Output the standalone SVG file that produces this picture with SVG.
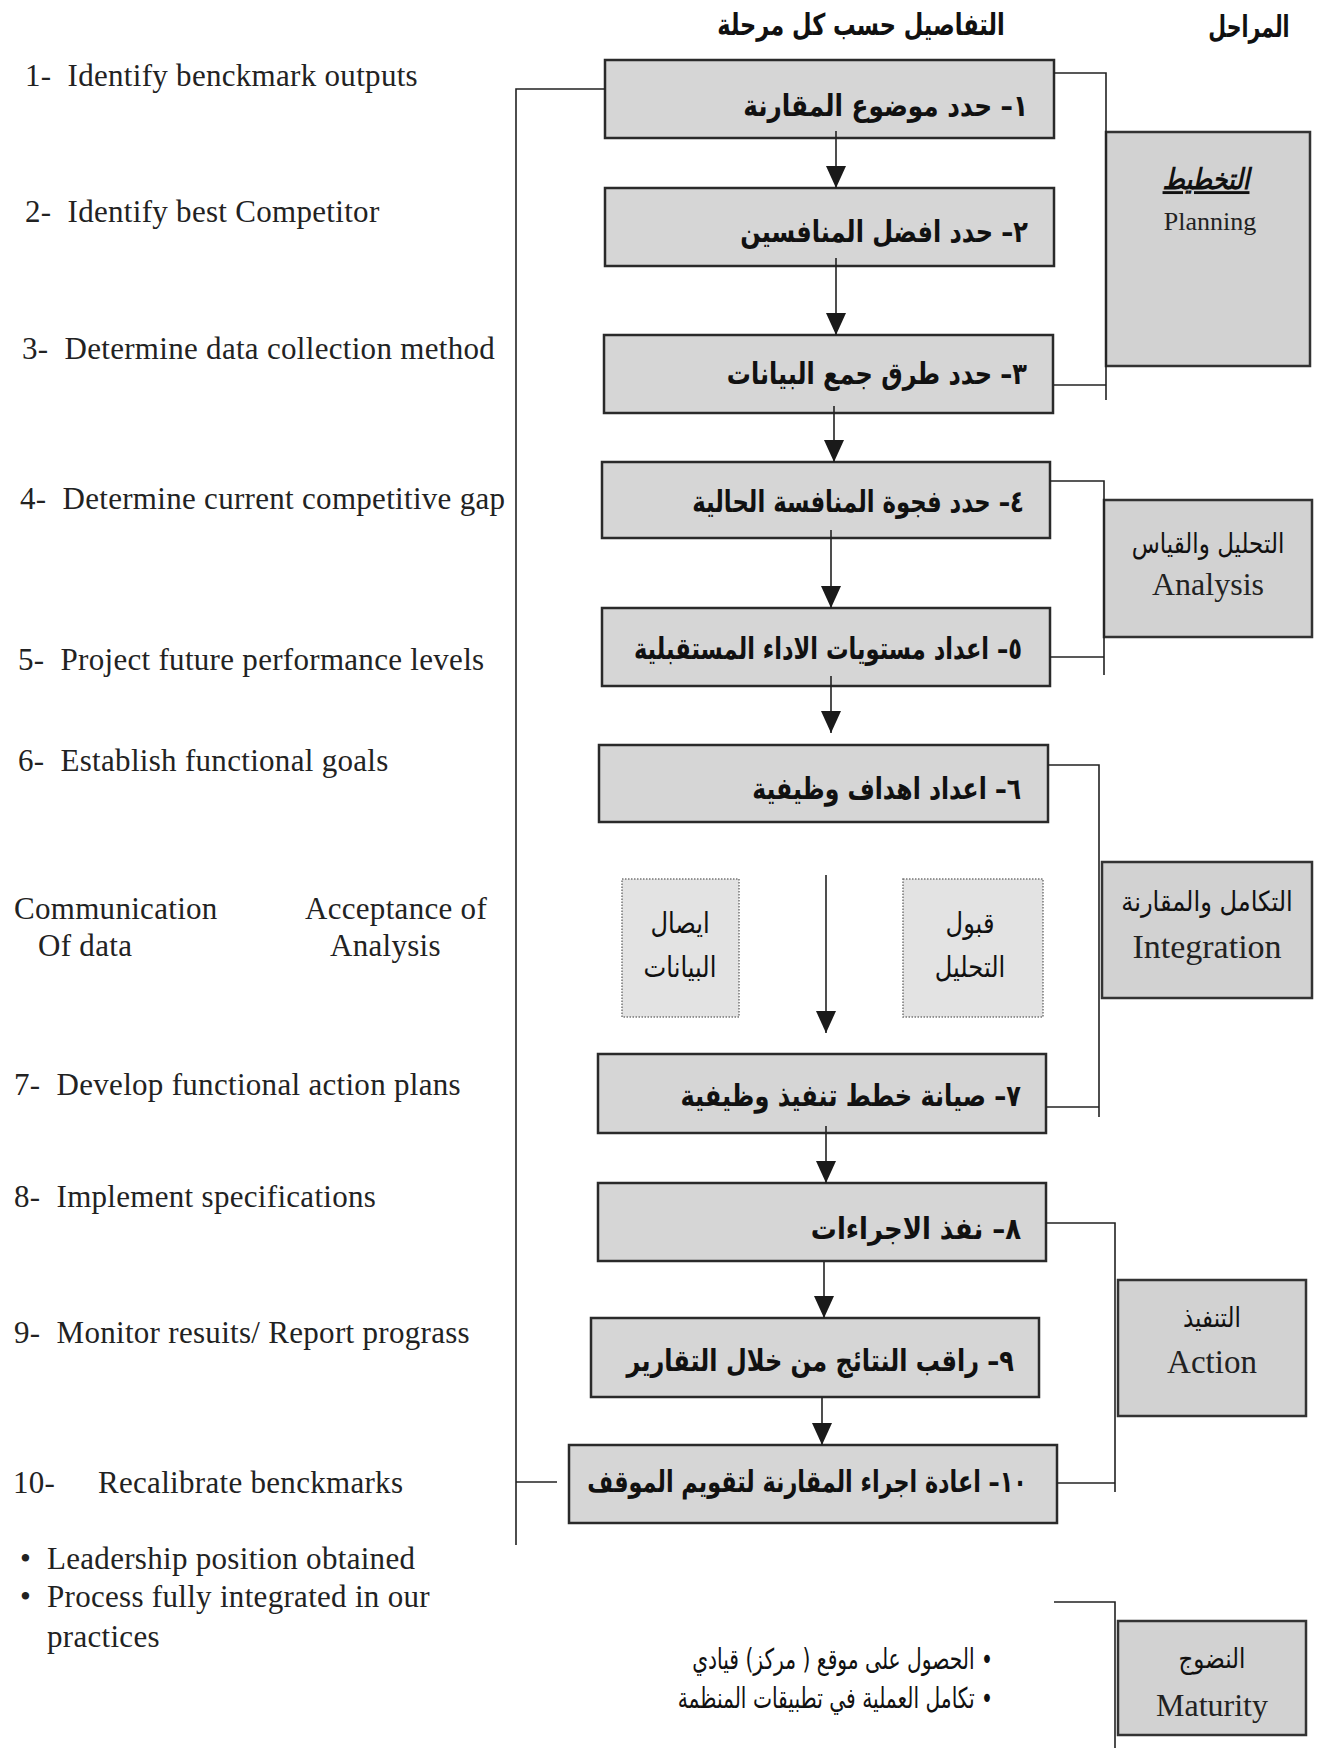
<svg xmlns="http://www.w3.org/2000/svg" width="1336" height="1748" viewBox="0 0 1336 1748">
<defs>
<marker id="ah" markerUnits="userSpaceOnUse" markerWidth="22" markerHeight="22" refX="22" refY="10" orient="auto">
<path d="M0,0 L22,10 L0,20 z" fill="#1a1a1a"/>
</marker>
<style>
.box{fill:#d6d6d6;stroke:#2a2a2a;stroke-width:2.5}
.phase{fill:#d2d2d2;stroke:#333;stroke-width:2.5}
.dotb{fill:#e3e3e3;stroke:#777;stroke-width:1.5;stroke-dasharray:1.5 1.5}
.ln{stroke:#222;stroke-width:1.6;fill:none}
.arw{stroke:#222;stroke-width:1.6;fill:none;marker-end:url(#ah)}
.en{font-family:"Liberation Serif",serif;font-size:31px;fill:#222;letter-spacing:0.3px}
.ph{font-family:"Liberation Serif",serif;font-size:32px;fill:#222;text-anchor:middle}
.ar{font-family:"DejaVu Sans",sans-serif;font-weight:bold;font-size:24px;fill:#111;text-anchor:end}
.arn{font-family:"DejaVu Sans",sans-serif;font-size:22px;fill:#111;text-anchor:end}
.arp{font-family:"DejaVu Sans",sans-serif;font-size:23px;fill:#111;text-anchor:middle}
.hd{font-family:"DejaVu Sans",sans-serif;font-weight:bold;font-size:25px;fill:#111;text-anchor:middle}
</style>
</defs>
<rect width="1336" height="1748" fill="#ffffff"/>

<g id="headers">
<text class="hd" transform="translate(861 35) scale(0.9 1.2)">التفاصيل حسب كل مرحلة</text>
<text class="hd" transform="translate(1249 37) scale(0.82 1.2)">المراحل</text>
</g>

<g id="english-steps">
<text class="en" x="25" y="86" xml:space="preserve">1-  Identify benckmark outputs</text>
<text class="en" x="25" y="222" xml:space="preserve">2-  Identify best Competitor</text>
<text class="en" x="22" y="359" xml:space="preserve">3-  Determine data collection method</text>
<text class="en" x="20" y="509" xml:space="preserve">4-  Determine current competitive gap</text>
<text class="en" x="18" y="670" xml:space="preserve">5-  Project future performance levels</text>
<text class="en" x="18" y="771" xml:space="preserve">6-  Establish functional goals</text>
<text class="en" x="14" y="919">Communication</text>
<text class="en" x="38" y="956">Of data</text>
<text class="en" x="305" y="919">Acceptance of</text>
<text class="en" x="330" y="956">Analysis</text>
<text class="en" x="14" y="1095" xml:space="preserve">7-  Develop functional action plans</text>
<text class="en" x="14" y="1207" xml:space="preserve">8-  Implement specifications</text>
<text class="en" x="14" y="1343" xml:space="preserve">9-  Monitor resuits/ Report prograss</text>
<text class="en" y="1493"><tspan x="13">10-</tspan><tspan x="98">Recalibrate benckmarks</tspan></text>
<text class="en" y="1569"><tspan x="20">•</tspan><tspan x="47">Leadership position obtained</tspan></text>
<text class="en" y="1607"><tspan x="20">•</tspan><tspan x="47">Process fully integrated in our</tspan></text>
<text class="en" x="47" y="1647">practices</text>
</g>

<g id="step1"><rect class="box" x="605" y="60" width="449" height="78"/><text class="ar" transform="translate(1028 116) scale(1.03 1.25)">١– حدد موضوع المقارنة</text></g>
<g id="step2"><rect class="box" x="605" y="188" width="449" height="78"/><text class="ar" transform="translate(1028 242) scale(1.0 1.25)">٢– حدد افضل المنافسين</text></g>
<g id="step3"><rect class="box" x="604" y="335" width="449" height="78"/><text class="ar" transform="translate(1027 384) scale(1.0 1.25)">٣– حدد طرق جمع البيانات</text></g>
<g id="step4"><rect class="box" x="602" y="462" width="448" height="76"/><text class="ar" transform="translate(1024 512) scale(0.95 1.25)">٤– حدد فجوة المنافسة الحالية</text></g>
<g id="step5"><rect class="box" x="602" y="608" width="448" height="78"/><text class="ar" transform="translate(1022 659) scale(0.94 1.25)">٥– اعداد مستويات الاداء المستقبلية</text></g>
<g id="step6"><rect class="box" x="599" y="745" width="449" height="77"/><text class="ar" transform="translate(1021 799) scale(0.98 1.25)">٦– اعداد اهداف وظيفية</text></g>
<g id="comm"><rect class="dotb" x="622" y="879" width="117" height="138"/><text class="arp" transform="translate(680 933) scale(1.05 1.25)">ايصال</text><text class="arp" transform="translate(680 977) scale(1.05 1.25)">البيانات</text></g>
<g id="accept"><rect class="dotb" x="903" y="879" width="140" height="138"/><text class="arp" transform="translate(970 933) scale(1.05 1.25)">قبول</text><text class="arp" transform="translate(970 977) scale(1.05 1.25)">التحليل</text></g>
<g id="step7"><rect class="box" x="598" y="1054" width="448" height="79"/><text class="ar" transform="translate(1021 1106) scale(1.0 1.25)">٧– صيانة خطط تنفيذ وظيفية</text></g>
<g id="step8"><rect class="box" x="598" y="1183" width="448" height="78"/><text class="ar" transform="translate(1021 1239) scale(1.08 1.25)">٨– نفذ الاجراءات</text></g>
<g id="step9"><rect class="box" x="591" y="1318" width="448" height="79"/><text class="ar" transform="translate(1014 1371) scale(1.0 1.25)">٩– راقب النتائج من خلال التقارير</text></g>
<g id="step10"><rect class="box" x="569" y="1445" width="488" height="78"/><text class="ar" transform="translate(1027 1492) scale(0.93 1.25)">١٠– اعادة اجراء المقارنة لتقويم الموقف</text></g>

<g id="planning"><rect class="phase" x="1106" y="132" width="204" height="234"/>
<text class="arp" transform="translate(1206 189) scale(1.05 1.25)" style="font-weight:bold;font-style:italic;text-decoration:underline">التخطيط</text>
<text class="ph" x="1210" y="230" style="font-size:26px">Planning</text></g>
<g id="analysis"><rect class="phase" x="1104" y="500" width="208" height="137"/>
<text class="arp" transform="translate(1208 553) scale(1.0 1.2)">التحليل والقياس</text>
<text class="ph" x="1208" y="595">Analysis</text></g>
<g id="integration"><rect class="phase" x="1102" y="862" width="210" height="136"/>
<text class="arp" transform="translate(1207 911) scale(1.05 1.2)">التكامل والمقارنة</text>
<text class="ph" x="1207" y="958" style="font-size:34px">Integration</text></g>
<g id="action"><rect class="phase" x="1118" y="1280" width="188" height="136"/>
<text class="arp" transform="translate(1212 1327) scale(1.0 1.2)">التنفيذ</text>
<text class="ph" x="1212" y="1373" style="font-size:33px">Action</text></g>
<g id="maturity"><rect class="phase" x="1118" y="1621" width="188" height="114"/>
<text class="arp" transform="translate(1212 1668) scale(1.0 1.2)">النضوج</text>
<text class="ph" x="1212" y="1716">Maturity</text></g>

<g id="maturity-notes">
<text class="arn" transform="translate(993 1669) scale(0.92 1.3)">&#x200F;• الحصول على موقع ( مركز) قيادي</text>
<text class="arn" transform="translate(993 1708) scale(0.92 1.3)">&#x200F;• تكامل العملية في تطبيقات المنظمة</text>
</g>

<g id="connectors">
<path class="arw" d="M836,131 V188"/>
<path class="arw" d="M836,258 V335"/>
<path class="arw" d="M834,406 V462"/>
<path class="arw" d="M831,530 V608"/>
<path class="arw" d="M831,676 V733"/>
<path class="arw" d="M826,875 V1033"/>
<path class="arw" d="M826,1126 V1183"/>
<path class="arw" d="M824,1262 V1318"/>
<path class="arw" d="M822,1397 V1445"/>
<path class="ln" d="M605,89 H516 V1545"/>
<path class="ln" d="M516,1482 H557"/>
<path class="ln" d="M1054,73 H1106 V400"/>
<path class="ln" d="M1054,385 H1106"/>
<path class="ln" d="M1050,481 H1104 V675"/>
<path class="ln" d="M1050,657 H1104"/>
<path class="ln" d="M1048,765 H1099 V1117"/>
<path class="ln" d="M1046,1107 H1099"/>
<path class="ln" d="M1046,1223 H1115 V1492"/>
<path class="ln" d="M1057,1483 H1115"/>
<path class="ln" d="M1054,1602 H1115 V1748"/>
</g>
</svg>
